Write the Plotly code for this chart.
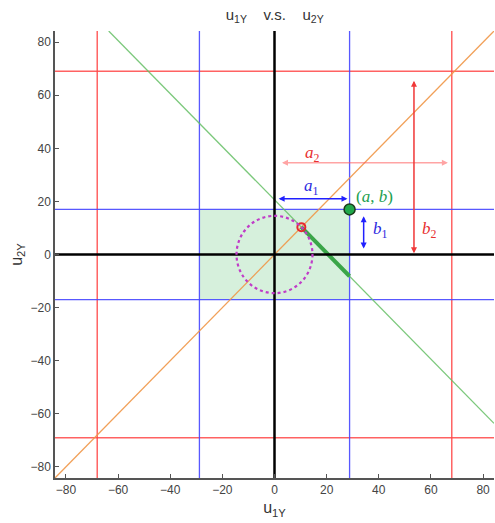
import plotly.graph_objects as go

# Bounds and constraint values
axis_range = [-84.2, 84.2]
tick_vals = [-80, -60, -40, -20, 0, 20, 40, 60, 80]
outer_x = [-68, 68]          # red vertical limits
outer_y = [-69, 69]          # red horizontal limits
inner_x = [-28.8, 28.8]      # blue vertical limits
inner_y = [-17, 17]          # blue horizontal limits
sum_const = 20.6             # green line: u1 + u2 = const
point_ab = (28.8, 17)        # corner (a, b)
point_eq = (10.3, 10.3)      # intersection of u1 = u2 with green line
circle_r = 14.57             # dotted circle radius
seg_end = (28.8, -8.2)       # end of thick green segment

RED = "rgba(255,70,70,0.85)"
BLUE = "rgba(70,70,255,0.9)"
GREEN = "rgba(100,190,100,0.85)"
ORANGE = "rgba(240,150,70,0.9)"

fig = go.Figure()

lo, hi = axis_range

# shaded feasible box
fig.add_shape(type="rect", x0=inner_x[0], x1=inner_x[1], y0=inner_y[0], y1=inner_y[1],
              fillcolor="rgba(120,205,140,0.3)", line=dict(width=0), layer="below")

# dotted circle
fig.add_shape(type="circle", x0=-circle_r, x1=circle_r, y0=-circle_r, y1=circle_r,
              line=dict(color="#c03cc8", width=2.2, dash="dot"))

def hline(y, color, w):
    fig.add_trace(go.Scatter(x=[lo, hi], y=[y, y], mode="lines",
                             line=dict(color=color, width=w), hoverinfo="skip"))

def vline(x, color, w):
    fig.add_trace(go.Scatter(x=[x, x], y=[lo, hi], mode="lines",
                             line=dict(color=color, width=w), hoverinfo="skip"))

for v in outer_x:
    vline(v, RED, 1.5)
for v in outer_y:
    hline(v, RED, 1.5)
for v in inner_x:
    vline(v, BLUE, 1.3)
for v in inner_y:
    hline(v, BLUE, 1.3)

# diagonal u1 = u2
fig.add_trace(go.Scatter(x=[lo, hi], y=[lo, hi], mode="lines",
                         line=dict(color=ORANGE, width=1.3), hoverinfo="skip"))
# green line u1 + u2 = const
fig.add_trace(go.Scatter(x=[sum_const - hi, hi], y=[hi, sum_const - hi], mode="lines",
                         line=dict(color=GREEN, width=1.3), hoverinfo="skip"))
# thick green segment inside box
fig.add_trace(go.Scatter(x=[point_eq[0], seg_end[0]], y=[point_eq[1], seg_end[1]], mode="lines",
                         line=dict(color="#3aa548", width=4), hoverinfo="skip"))

# black axes through origin
vline(0, "black", 2.5)
hline(0, "black", 2.5)

# markers
fig.add_trace(go.Scatter(x=[point_eq[0]], y=[point_eq[1]], mode="markers",
                         marker=dict(size=8, color="rgba(255,255,255,0)",
                                     line=dict(color="#e8282e", width=2)), hoverinfo="skip"))
fig.add_trace(go.Scatter(x=[point_ab[0]], y=[point_ab[1]], mode="markers",
                         marker=dict(size=11, color="#1fa84a",
                                     line=dict(color="#1a3a1a", width=1.5)), hoverinfo="skip"))

# dimension arrows: (x_end, y_end, x_start, y_start, color)
arrows = [
    (28.0, 21.0, 1.0, 21.0, "#2020ff"),
    (66.5, 34.6, 2.3, 34.6, "rgba(255,90,90,0.55)"),
    (34.2, 2.3, 34.2, 15.0, "#2020ff"),
    (53.5, 0.5, 53.5, 66.0, "#f03838"),
]
for x1, y1, x0, y0, c in arrows:
    fig.add_annotation(x=x1, y=y1, ax=x0, ay=y0, xref="x", yref="y", axref="x", ayref="y",
                       text="", showarrow=True, arrowhead=2, arrowside="end+start",
                       arrowsize=0.8, arrowwidth=1.5, arrowcolor=c)

labels = [
    (14.0, 25.6, "<i>a</i><sub>1</sub>", "#2a2ae0"),
    (14.6, 37.8, "<i>a</i><sub>2</sub>", "#e83030"),
    (40.5, 9.4, "<i>b</i><sub>1</sub>", "#2a2ae0"),
    (59.5, 9.4, "<i>b</i><sub>2</sub>", "#e83030"),
    (38.5, 22.0, "(<i>a</i>, <i>b</i>)", "#22a050"),
]
for x, y, t, c in labels:
    fig.add_annotation(x=x, y=y, xref="x", yref="y", text=t, showarrow=False,
                       font=dict(family="Liberation Serif", size=17, color=c))

axis_common = dict(range=axis_range, tickvals=tick_vals, showgrid=False, zeroline=False,
                   showline=True, linecolor="#555", linewidth=1.5, ticks="inside",
                   ticklen=4, tickcolor="#555", tickfont=dict(family="Arial", size=12, color="#444"),
                   mirror=False)

fig.update_layout(
    width=495, height=523,
    margin=dict(l=55, r=1, t=31, b=45),
    plot_bgcolor="white", paper_bgcolor="white",
    showlegend=False,
    title=dict(text="u<sub>1Y</sub>    v.s.    u<sub>2Y</sub>", x=0.555, xanchor="center",
               y=0.972, yanchor="middle",
               font=dict(family="Arial", size=15, color="#333")),
    xaxis=dict(axis_common, title=dict(text="u<sub>1Y</sub>", standoff=6,
                                       font=dict(family="Arial", size=16, color="#333"))),
    yaxis=dict(axis_common, title=dict(text="u<sub>2Y</sub>", standoff=4,
                                       font=dict(family="Arial", size=16, color="#333"))),
)

fig.write_html("out.html")
